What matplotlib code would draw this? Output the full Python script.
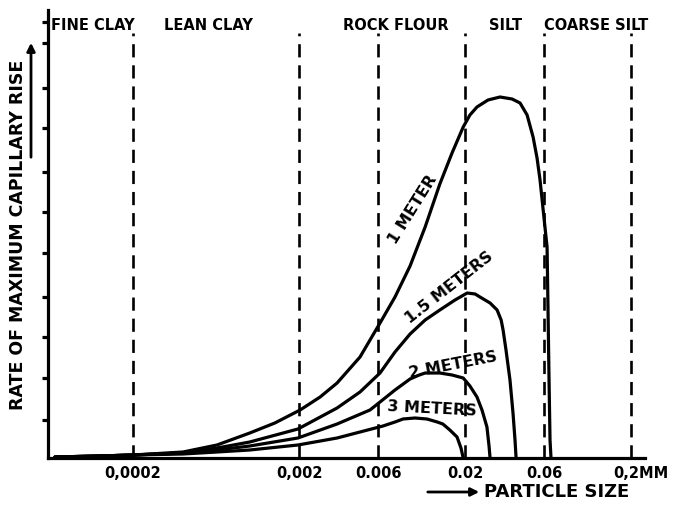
import numpy as np
import matplotlib
matplotlib.use("Agg")
import matplotlib.pyplot as plt
from matplotlib.patches import FancyArrowPatch
from matplotlib.transforms import ScaledTranslation

# ---------------- data ----------------
# particle size in mm (log axis), rate of maximum capillary rise in arbitrary units
size_1m = [6.78e-5, 1.27e-4, 2.00e-4, 4.00e-4, 6.41e-4, 1.01e-3, 1.43e-3, 2.03e-3, 2.68e-3,
           3.39e-3, 4.66e-3, 6.15e-3, 7.57e-3, 9.33e-3, 1.15e-2, 1.41e-2, 1.67e-2, 1.95e-2,
           2.14e-2, 2.36e-2, 2.75e-2, 3.25e-2, 3.84e-2, 4.29e-2, 4.73e-2, 5.14e-2, 5.43e-2,
           5.66e-2, 5.98e-2, 6.24e-2, 6.32e-2, 6.41e-2, 6.50e-2, 6.59e-2]
rate_1m = [1, 2, 3, 6, 13, 25, 35, 48, 61,
           75, 101, 135, 161, 192, 231, 274, 305, 331,
           343, 351, 358, 361, 359, 355, 343, 321, 300,
           278, 240, 211, 150, 80, 18, 0]

size_15m = [6.78e-5, 1.27e-4, 2.00e-4, 4.00e-4, 6.41e-4, 1.01e-3, 1.97e-3, 3.39e-3, 4.66e-3,
            6.15e-3, 7.57e-3, 9.33e-3, 1.15e-2, 1.41e-2, 1.74e-2, 2.06e-2, 2.30e-2, 2.46e-2,
            2.83e-2, 3.12e-2, 3.30e-2, 3.39e-2, 3.53e-2, 3.73e-2, 3.89e-2, 4.00e-2, 4.06e-2]
rate_15m = [1, 2, 3, 5, 10, 16, 29, 50, 66,
            85, 106, 124, 138, 148, 158, 165, 164, 161,
            155, 148, 138, 128, 108, 78, 45, 18, 0]

size_2m = [6.78e-5, 1.27e-4, 2.00e-4, 4.00e-4, 6.41e-4, 1.01e-3, 1.97e-3, 3.39e-3, 5.35e-3,
           6.15e-3, 7.57e-3, 9.33e-3, 1.06e-2, 1.15e-2, 1.41e-2, 1.67e-2, 1.95e-2, 2.14e-2,
           2.36e-2, 2.53e-2, 2.71e-2, 2.79e-2, 2.83e-2]
rate_2m = [1, 2, 3, 5, 8, 12, 20, 34, 48,
           56, 68, 79, 83, 85, 85, 83, 80, 72,
           61, 48, 31, 12, 0]

size_3m = [6.78e-5, 1.27e-4, 2.00e-4, 4.00e-4, 6.41e-4, 1.01e-3, 1.97e-3, 3.39e-3, 4.66e-3,
           6.41e-3, 7.57e-3, 8.46e-3, 9.99e-3, 1.18e-2, 1.36e-2, 1.47e-2, 1.62e-2, 1.79e-2,
           1.89e-2, 1.95e-2]
rate_3m = [1, 2, 3, 4, 6, 8, 13, 20, 26,
           32, 36, 39, 40, 39, 36, 34, 28, 21,
           10, 0]

curve_labels = ["1 METER", "1.5 METERS", "2 METERS", "3 METERS"]
label_size = [0.00975, 0.01600, 0.01694, 0.01266]
label_rate = [248, 170, 93, 49]
label_angle = [58, 38, 11, -3]

boundary_sizes = [0.0002, 0.002, 0.006, 0.02, 0.06, 0.2]
tick_labels = ["0,0002", "0,002", "0.006", "0.02", "0.06", "0,2MM"]
categories = ["FINE CLAY", "LEAN CLAY", "ROCK FLOUR", "SILT", "COARSE SILT"]
category_px = [93, 208, 396, 506, 596]
ytick_pos = [38, 80, 121, 161, 205, 246, 286, 330, 370, 415, 436]

# ---------------- figure ----------------
W, H = 681, 505
fig = plt.figure(figsize=(W / 100, H / 100), dpi=100)
L, R, B, T = 48, 645, 458, 10
ax = fig.add_axes([L / W, 1 - B / H, (R - L) / W, (B - T) / H])
ax.set_xscale("log")
ax.set_xlim(6.15e-5, 0.2427)
ax.set_ylim(0, 448)

FONT = dict(family="DejaVu Sans", weight="bold")
col = "black"
lw = 2.3

for s, r in [(size_1m, rate_1m), (size_15m, rate_15m), (size_2m, rate_2m), (size_3m, rate_3m)]:
    ax.plot(s, r, color=col, lw=lw, solid_joinstyle="round", solid_capstyle="round")

ax.vlines(boundary_sizes, 0, 425, colors=col, linestyles=(0, (5, 3)), lw=1.9)

for t, s, r, a in zip(curve_labels, label_size, label_rate, label_angle):
    ax.text(s, r, t, rotation=a, ha="center", va="center", fontsize=11.5,
            rotation_mode="anchor", **FONT)

for sp in ["top", "right"]:
    ax.spines[sp].set_visible(False)
for sp in ["left", "bottom"]:
    ax.spines[sp].set_linewidth(2.3)

ax.set_yticks(ytick_pos)
ax.set_yticklabels([])
ax.tick_params(axis="y", direction="out", length=4, width=2.3)

ax.set_xticks(boundary_sizes)
ax.set_xticklabels(tick_labels, fontsize=10.5, fontweight="bold", family="DejaVu Sans")
ax.minorticks_off()
ax.tick_params(axis="x", length=0, pad=6)
lab = ax.get_xticklabels()[-1]
lab.set_horizontalalignment("left")
lab.set_transform(lab.get_transform() + ScaledTranslation(-0.18, 0, fig.dpi_scale_trans))

for c, px in zip(categories, category_px):
    fig.text(px / W, 1 - 25 / H, c, ha="center", va="center", fontsize=10.5, **FONT)

fig.text(18 / W, 1 - 235 / H, "RATE OF MAXIMUM CAPILLARY RISE", rotation=90,
         ha="center", va="center", fontsize=12.5, **FONT)
fig.add_artist(FancyArrowPatch((31 / W, 1 - 160 / H), (31 / W, 1 - 40 / H),
               transform=fig.transFigure, arrowstyle="-|>", mutation_scale=12, lw=2, color=col))

fig.text(484 / W, 1 - 492 / H, "PARTICLE SIZE", ha="left", va="center", fontsize=13, **FONT)
fig.add_artist(FancyArrowPatch((425 / W, 1 - 492 / H), (482 / W, 1 - 492 / H),
               transform=fig.transFigure, arrowstyle="-|>", mutation_scale=12, lw=2, color=col))

fig.savefig("out.png", dpi=100)
